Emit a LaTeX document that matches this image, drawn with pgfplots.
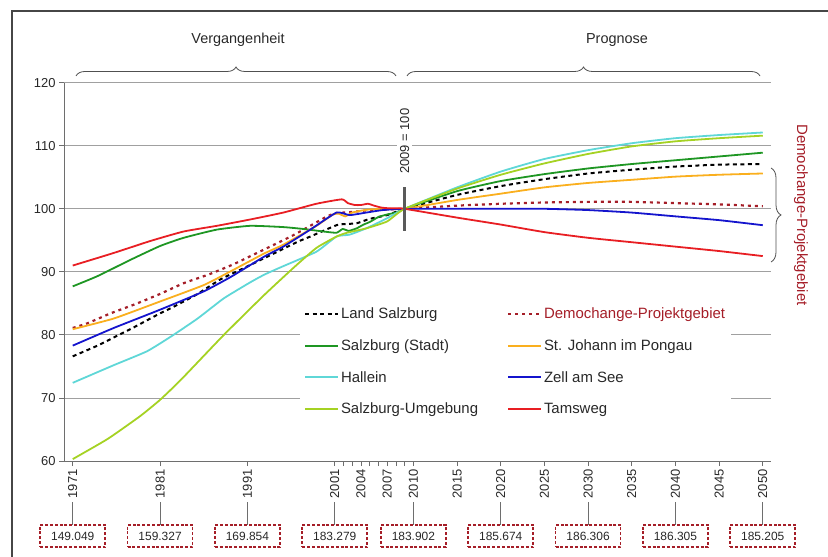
\documentclass[border=0pt]{standalone}
\usepackage{fontspec}
\setmainfont{Liberation Sans}
\usepackage{pgfplots}
\pgfplotsset{compat=1.18}
\usetikzlibrary{decorations.pathreplacing}
\definecolor{cTam}{RGB}{232,30,35}
\definecolor{cStadt}{RGB}{30,150,35}
\definecolor{cHal}{RGB}{95,215,215}
\definecolor{cUmg}{RGB}{165,210,35}
\definecolor{cZell}{RGB}{20,20,205}
\definecolor{cJoh}{RGB}{250,175,30}
\definecolor{cDemo}{RGB}{165,30,40}
\definecolor{cGrid}{RGB}{160,160,160}
\definecolor{cAxis}{RGB}{110,110,110}
\definecolor{cText}{RGB}{40,40,40}
\newcommand\bx[2]{%
  \draw[cAxis, line width=0.8bp] ([yshift=-41bp]axis cs:#1,60) -- ([yshift=-64bp]axis cs:#1,60);
  \node[draw=cDemo, dash pattern=on 3bp off 1.8bp, line width=1.8bp, minimum width=65bp, minimum height=22bp, inner sep=0pt, text=cText, font=\fontsize{12}{14}\selectfont] at ([yshift=-75bp]axis cs:#1,60) {#2};}
\begin{document}
\begin{tikzpicture}
\begin{axis}[
  at={(64bp,96bp)}, anchor=south west,
  scale only axis, width=707.5bp, height=378.3bp,
  xmin=1970, xmax=2051, ymin=60, ymax=120,
  axis x line*=bottom, axis y line*=left,
  axis line style={cAxis, line width=0.9bp},
  xtick={1971,1981,1991,2001,2004,2007,2010,2015,2020,2025,2030,2035,2040,2045,2050},
  extra x ticks={2002,2003,2005,2006,2008,2009},
  extra x tick labels={},
  ytick={60,70,...,120},
  ymajorgrids, grid style={cGrid, line width=0.8bp},
  tick align=outside, major tick length=5bp,
  tick style={cAxis, line width=0.8bp},
  /pgf/number format/1000 sep={},
  /pgf/number format/assume math mode=true,
  xticklabel style={rotate=90, anchor=east, font=\fontsize{13}{15}\selectfont, text=cText},
  yticklabel style={font=\fontsize{13}{15}\selectfont, text=cText},
  clip=false,
  legend columns=2,
  legend cell align=left,
  legend style={at={(axis cs:1997,85.4)}, anchor=north west, draw=none, fill=white,
    font=\fontsize{15}{18}\selectfont, text=cText, inner xsep=4bp, inner ysep=5bp,
    row sep=15.3bp, column sep=0bp},
  legend image code/.code={\draw[line width=2bp,#1] (0bp,0bp) -- (33bp,0bp);},
  every axis plot/.append style={line width=1.8bp, smooth, tension=0.3},
]
% Land Salzburg
\addplot[black, dash pattern=on 4bp off 3.5bp, line width=2bp] coordinates {
(1971,76.6) (1974,78.4) (1976.7,80.3) (1978,81.2) (1980.7,83.2) (1982.6,84.5) (1985.3,86.5) (1987.9,88.8) (1990.6,90.6) (1994,92.9) (1996.8,94.8) (1998.2,95.6) (2001.2,97.4) (2002.4,97.6) (2003.5,97.7) (2005,98.4) (2007,99.0) (2009,100)
(2015,102.2) (2020,103.6) (2025,104.7) (2030,105.6) (2035,106.2) (2040,106.7) (2045,107.0) (2050,107.1)};
\addlegendentry{\makebox[164bp][l]{Land Salzburg}}
% Demochange
\addplot[cDemo, dash pattern=on 3bp off 4bp, line width=2.2bp] coordinates {
(1971,81.1) (1972.7,81.85) (1975.3,83.4) (1978.2,84.9) (1981,86.5) (1983.7,88.2) (1986.6,89.6) (1989.4,91.2) (1992.1,93.0) (1996.1,95.7) (1998.7,97.7) (2000,98.7) (2001,99.3) (2002,99.4) (2003,99.5) (2005,99.8) (2007,99.9) (2009,100)
(2015,100.5) (2020,100.8) (2025,101.0) (2030,101.1) (2035,101.1) (2040,100.9) (2045,100.7) (2050,100.4)};
\addlegendentry{\textcolor{cDemo}{Demochange-Projektgebiet}}
% Salzburg Stadt
\addplot[cStadt] coordinates {
(1971,87.7) (1973.8,89.3) (1977.6,91.9) (1981,94.1) (1983.7,95.4) (1987.5,96.7) (1991.3,97.3) (1995.1,97.1) (1997.4,96.8) (1999.7,96.4) (2001.2,96.2) (2001.9,96.8) (2002.6,96.5) (2003.5,96.9) (2004.3,97.5) (2005,97.9) (2006,98.7) (2007,99.1) (2008,99.4) (2009,100)
(2015,102.8) (2020,104.4) (2025,105.5) (2030,106.4) (2035,107.1) (2040,107.7) (2045,108.3) (2050,108.9)};
\addlegendentry{\makebox[164bp][l]{Salzburg (Stadt)}}
% St. Johann
\addplot[cJoh] coordinates {
(1971,80.9) (1975.7,82.6) (1981,85.3) (1986,87.9) (1989.1,90.1) (1992.9,92.9) (1995.1,94.3) (1998.9,97.3) (2000.8,99.1) (2001.5,99.2) (2002.2,98.8) (2003,99.4) (2004,99.7) (2005,99.9) (2007,100.0) (2009,100.0)
(2015,101.4) (2020,102.4) (2025,103.4) (2030,104.1) (2035,104.6) (2040,105.1) (2045,105.4) (2050,105.6)};
\addlegendentry{St. Johann im Pongau}
% Hallein
\addplot[cHal] coordinates {
(1971,72.4) (1975.7,75.2) (1979.5,77.4) (1982.2,79.7) (1985.3,82.6) (1988.3,85.8) (1991.4,88.4) (1993,89.6) (1995.1,90.9) (1998.9,93.2) (2001.2,95.6) (2002.7,95.9) (2004.6,96.9) (2007,98.5) (2009,100)
(2015,103.4) (2020,105.9) (2025,107.9) (2030,109.3) (2035,110.4) (2040,111.2) (2045,111.7) (2050,112.1)};
\addlegendentry{\makebox[164bp][l]{Hallein}}
% Zell am See
\addplot[cZell] coordinates {
(1971,78.3) (1975.7,81.1) (1981,84.0) (1986,86.9) (1989.1,89.2) (1992.9,92.4) (1995.1,94.0) (1998.2,96.7) (2001.2,99.4) (2002.7,99.0) (2004.6,99.4) (2006.5,99.8) (2009,100)
(2015,100.0) (2020,100.0) (2025,100.0) (2030,99.8) (2035,99.4) (2040,98.8) (2045,98.2) (2050,97.4)};
\addlegendentry{Zell am See}
% Salzburg-Umgebung
\addplot[cUmg] coordinates {
(1971,60.3) (1975,63.5) (1978.7,67.1) (1981,69.7) (1983.4,72.9) (1988.3,80.0) (1992.9,86.3) (1996.4,90.8) (1998.9,93.8) (2001.2,95.6) (2002.4,96.2) (2004.6,96.9) (2007,98.0) (2009,100)
(2015,103.2) (2020,105.4) (2025,107.2) (2030,108.7) (2035,109.9) (2040,110.7) (2045,111.2) (2050,111.6)};
\addlegendentry{\makebox[164bp][l]{Salzburg-Umgebung}}
% Tamsweg
\addplot[cTam] coordinates {
(1971,91.0) (1975.7,93.0) (1979.9,94.9) (1983.7,96.4) (1987.5,97.3) (1991.3,98.3) (1995.1,99.4) (1998.9,100.8) (2001.8,101.5) (2002.5,100.9) (2003.3,100.6) (2004,100.6) (2004.8,100.8) (2005.5,100.5) (2006.3,100.2) (2007,100.1) (2008,100.1) (2009,100.0)
(2015,98.6) (2020,97.5) (2025,96.3) (2030,95.4) (2035,94.7) (2040,94.0) (2045,93.3) (2050,92.5)};
\addlegendentry{Tamsweg}
% 2009 = 100 marker
\draw[line width=3.5bp, color={rgb,255:red,90;green,90;blue,90}] (axis cs:2009,96.5) -- (axis cs:2009,103.5);
\node[rotate=90, fill=white, inner sep=3bp, text=cText, font=\fontsize{13}{15}\selectfont] at (axis cs:2009,110.7) {2009 = 100};
% bottom boxes
\bx{1971}{149.049}
\bx{1981}{159.327}
\bx{1991}{169.854}
\bx{2001}{183.279}
\bx{2010}{183.902}
\bx{2020}{185.674}
\bx{2030}{186.306}
\bx{2040}{186.305}
\bx{2050}{185.205}
\end{axis}
% frame
\draw[color={rgb,255:red,70;green,70;blue,70}, line width=1.4bp] (12bp,0bp) -- (12bp,546bp) -- (828bp,546bp);
% top braces
\draw[color={rgb,255:red,80;green,80;blue,80}, line width=0.8bp, decorate, decoration={brace, amplitude=9bp}] (76bp,481bp) -- (396bp,481bp);
\draw[color={rgb,255:red,80;green,80;blue,80}, line width=0.8bp, decorate, decoration={brace, amplitude=9bp}] (407bp,481bp) -- (760bp,481bp);
\node[text=cText, font=\fontsize{14.5}{17}\selectfont] at (238bp,517bp) {Vergangenheit};
\node[text=cText, font=\fontsize{14.5}{17}\selectfont] at (617bp,517bp) {Prognose};
% right brace
\draw[color={rgb,255:red,80;green,80;blue,80}, line width=0.8bp, decorate, decoration={brace, amplitude=10bp}] (771bp,389bp) -- (771bp,295bp);
\node[rotate=-90, text=cDemo, font=\fontsize{15}{18}\selectfont] at (801bp,342bp) {Demochange-Projektgebiet};
\pgfresetboundingbox
\useasboundingbox (0bp,0bp) rectangle (828bp,557bp);
\end{tikzpicture}
\end{document}
